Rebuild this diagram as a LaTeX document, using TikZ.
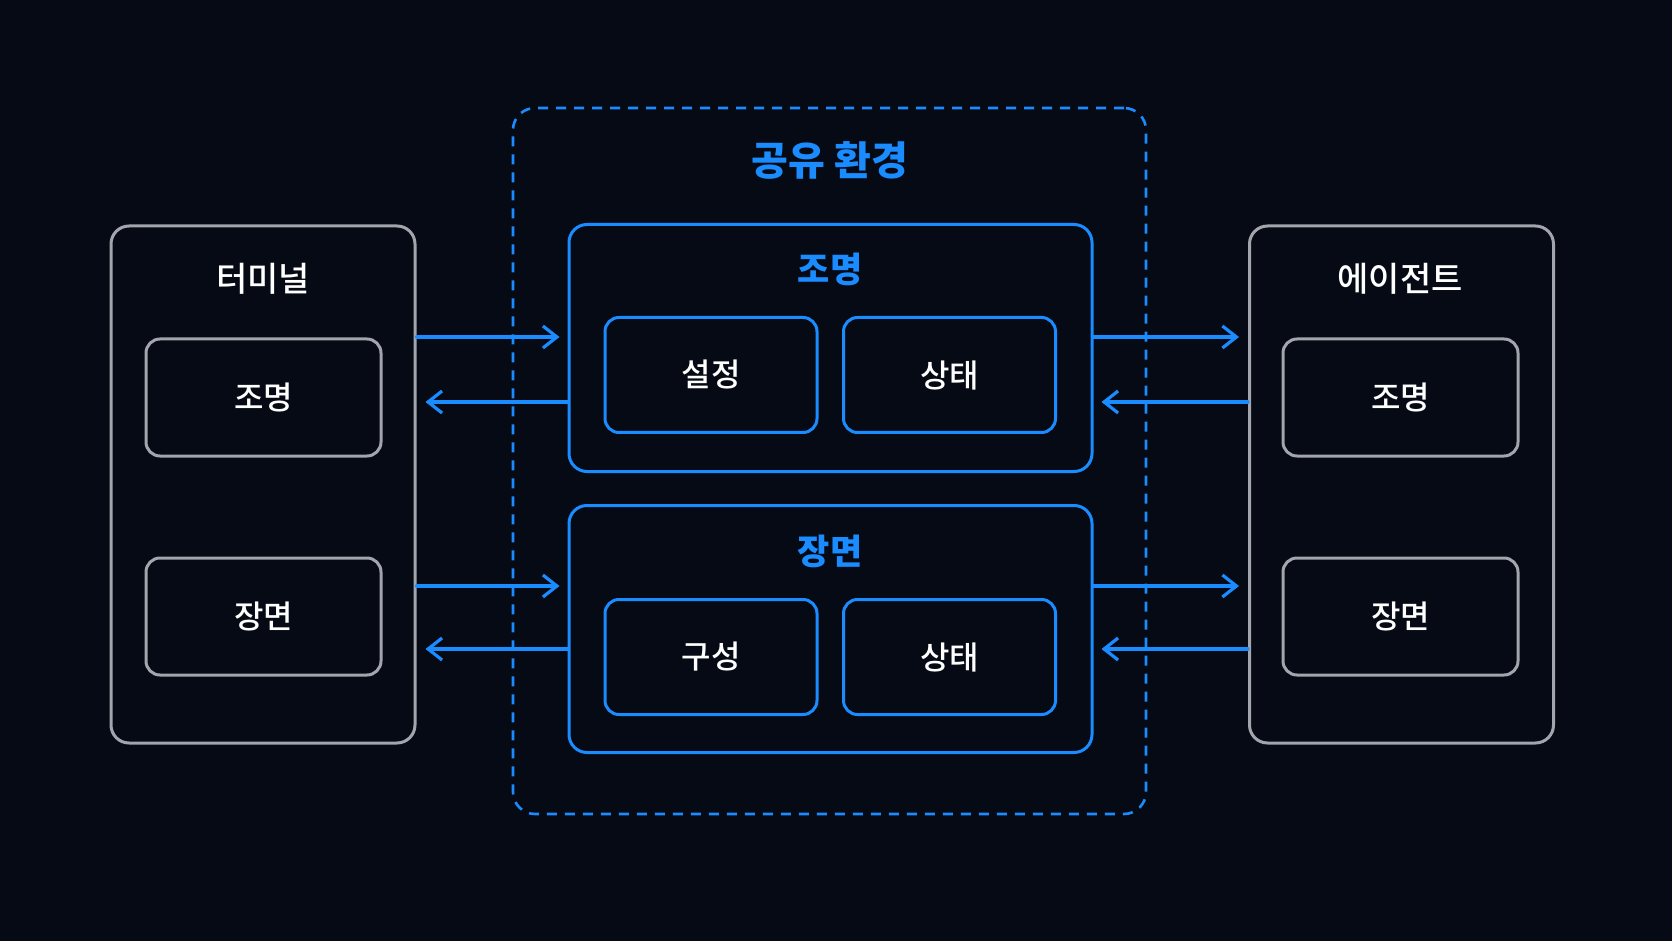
\documentclass[tikz,border=0pt]{standalone}
\usepackage{fontspec}
\setmainfont{Noto Sans CJK KR}
\newfontfamily\krmedium{Noto Sans CJK KR Medium}
\usetikzlibrary{positioning,arrows.meta}
\definecolor{bgdark}{HTML}{050A14}
\definecolor{accent}{HTML}{1A8CFF}
\definecolor{edge}{HTML}{A2A5AB}

\begin{document}
\begin{tikzpicture}[x=0.5pt, y=-0.5pt,
          side/.style={rectangle, draw=edge, line width=1.5pt, rounded corners=9pt,
              minimum width=152pt, minimum height=258.5pt},
          part/.style={rectangle, draw=edge, line width=1.5pt, rounded corners=7pt,
              minimum width=117.5pt, minimum height=58.5pt,
              text=white, font=\krmedium\fontsize{16}{19}\selectfont},
          group/.style={rectangle, draw=accent, line width=1.5pt, rounded corners=9pt,
              minimum width=261.5pt, minimum height=123.5pt},
          field/.style={rectangle, draw=accent, line width=1.5pt, rounded corners=7pt,
              minimum width=106pt, minimum height=57.5pt,
              text=white, font=\krmedium\fontsize{16}{19}\selectfont},
          shared/.style={rectangle, draw=accent, line width=1.3pt, dash pattern=on 5pt off 4pt,
              rounded corners=11pt, minimum width=316.5pt, minimum height=353pt},
          heading/.style={text=white, font=\krmedium\fontsize{17}{20}\selectfont},
          bluehead/.style={text=accent, font=\bfseries\fontsize{17.5}{21}\selectfont},
          flow/.style={-{Straight Barb[length=7pt,width=11pt]}, line width=1.6pt, accent, line cap=round}
        ]
        \fill[bgdark] (0,0) rectangle (1672,941);

        % shared environment
        \node[shared] (env) at (829.5,461) {};
        \node[bluehead, font=\bfseries\fontsize{20}{24}\selectfont] (envtitle) at (830,160) {공유 환경};

        \node[group] (light) at (830.5,348) {};
        \node[bluehead] (lighttitle) at (830,269) {조명};
        \node[field] (setting) at (711,375) {설정};
        \node[field] (lstate)  at (949.5,375) {상태};

        \node[group] (scene) at (830.5,629) {};
        \node[bluehead] (scenetitle) at (830,551) {장면};
        \node[field] (compose) at (711,657) {구성};
        \node[field] (sstate)  at (949.5,657) {상태};

        % terminal
        \node[side] (term) at (263,484.5) {};
        \node[heading] (termtitle) at (263,279) {터미널};
        \node[part] (termlight) at (263.5,397.5) {조명};
        \node[part] (termscene) at (263.5,616.5) {장면};

        % agent
        \node[side] (agent) at (1401.5,484.5) {};
        \node[heading] (agenttitle) at (1400,279) {에이전트};
        \node[part] (agentlight) at (1400.5,397.5) {조명};
        \node[part] (agentscene) at (1400.5,616.5) {장면};

        \draw[flow, shorten >=4pt] (term.east |- 0,337) -- (light.west |- 0,337);
        \draw[flow, shorten >=4.5pt] (light.west |- 0,402) -- (term.east |- 0,402);
        \draw[flow, shorten >=4pt] (term.east |- 0,586) -- (scene.west |- 0,586);
        \draw[flow, shorten >=4.5pt] (scene.west |- 0,649) -- (term.east |- 0,649);

        \draw[flow, shorten >=4.5pt] (light.east |- 0,337) -- (agent.west |- 0,337);
        \draw[flow, shorten >=4pt] (agent.west |- 0,402) -- (light.east |- 0,402);
        \draw[flow, shorten >=4.5pt] (scene.east |- 0,586) -- (agent.west |- 0,586);
        \draw[flow, shorten >=4pt] (agent.west |- 0,649) -- (scene.east |- 0,649);
      \end{tikzpicture}
\end{document}
